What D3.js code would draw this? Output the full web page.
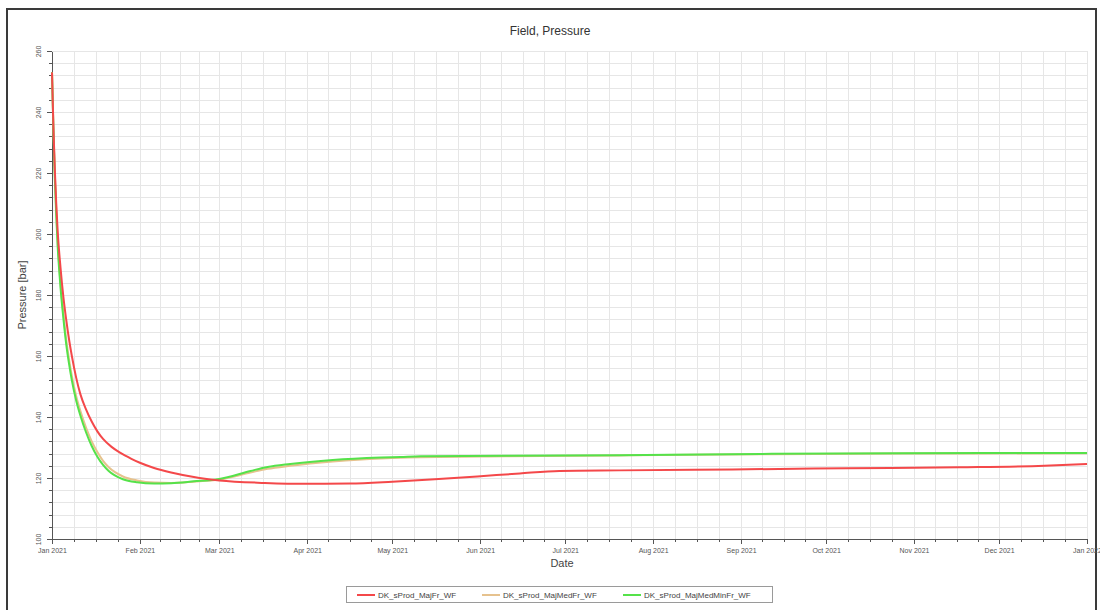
<!DOCTYPE html>
<html>
<head>
<meta charset="utf-8">
<title>Field, Pressure</title>
<script src="https://cdn.jsdelivr.net/npm/d3@7"></script>
<style>
	body { margin: 0; background: #fff; font-family: Arial, "Liberation Sans", sans-serif; }
	.grid line { stroke: #e6e6e6; stroke-width: 1; shape-rendering: crispEdges; }
	.axis path, .axis line { stroke: #555; shape-rendering: crispEdges; }
	.axis text { fill: #555; font-size: 7px; }
	.line { fill: none; stroke-width: 2; stroke-linejoin: round; }
</style>
</head>
<body>
<div id="chart"></div>
<script>
/* global d3 */

// days since 1 Jan 2021
var majFrDays   = [0, 0.5, 1, 1.5, 2, 3, 4, 5, 6, 7, 8.5, 10, 12, 14, 16, 18, 21, 24, 28, 31, 36, 42, 52, 59, 75, 90, 105, 120, 135, 150, 165, 179, 200, 240, 280, 320, 350, 365];
var majFrValues = [253, 235, 221, 210, 201, 189, 179.5, 172, 165.5, 160, 153, 147.5, 142.5, 138.5, 135.3, 132.8, 130.2, 128.3, 126.3, 125, 123.3, 121.8, 120, 119.2, 118.4, 118.1, 118.2, 118.8, 119.6, 120.5, 121.5, 122.3, 122.5, 122.8, 123.2, 123.5, 124, 124.6];

var medDays      = [0, 0.5, 1, 1.5, 2, 3, 4, 5, 6, 7, 8.5, 10, 12, 14, 16, 18, 20, 25, 30, 36, 42, 50, 59, 70, 76, 84, 99, 116, 123, 130, 160, 200, 250, 300, 365];
var majMedFrVals = [253, 235, 219.5, 207.5, 197.5, 184, 174, 165.5, 159, 153.5, 147, 142, 136.5, 132, 128.5, 125.6, 123.5, 120.5, 119.2, 118.5, 118.4, 118.8, 119.5, 121.8, 123, 124, 125.4, 126.4, 126.6, 126.8, 127.1, 127.4, 127.8, 128, 128.1];
var majMedMinVal = [253, 234, 218, 206, 196, 182.5, 172.5, 164, 157.5, 152, 145.5, 140.5, 135, 130.5, 127, 124.3, 122.3, 119.6, 118.6, 118.2, 118.3, 118.9, 119.7, 122.3, 123.6, 124.6, 125.9, 126.7, 126.9, 127.1, 127.3, 127.5, 127.9, 128.1, 128.2];

var seriesNames  = ['DK_sProd_MajFr_WF', 'DK_sProd_MajMedFr_WF', 'DK_sProd_MajMedMinFr_WF'];
var seriesColors = ['#f4484a', '#e6c28e', '#55e24a'];
var yTicks       = [100, 120, 140, 160, 180, 200, 220, 240, 260];

(function () {
	'use strict';

	function PressureChart (el) {
		this.series = this.buildSeries();
		this.scales = this.setScales();

		this.svg = this.buildSVG(el);
		this.addFrame();
		this.addTitle();
		this.addGrid();
		this.addAxes();
		this.addLines();
		this.addLegend();
	}

	PressureChart.prototype = {
		W: 1100,
		H: 610,
		plot: {left: 52, right: 1087, top: 51, bottom: 539},

		toDate: function (d) {
			return new Date(Date.UTC(2021, 0, 1) + d * 864e5);
		},

		buildSeries: function () {
			var that = this;
			var zip = function (days, vals) {
				return days.map(function (d, i) { return {date: that.toDate(d), value: vals[i]}; });
			};
			return [
				{name: seriesNames[0], color: seriesColors[0], values: zip(majFrDays, majFrValues)},
				{name: seriesNames[1], color: seriesColors[1], values: zip(medDays, majMedFrVals)},
				{name: seriesNames[2], color: seriesColors[2], values: zip(medDays, majMedMinVal)}
			];
		},

		setScales: function () {
			return {
				x: d3.scaleUtc().domain([new Date(Date.UTC(2021, 0, 1)), new Date(Date.UTC(2022, 0, 1))])
						.range([this.plot.left, this.plot.right]),
				y: d3.scaleLinear().domain([100, 260]).range([this.plot.bottom, this.plot.top])
			};
		},

		// quarter-month steps, the way the grid is drawn
		minorDates: function () {
			var months = d3.utcMonth.range(this.scales.x.domain()[0], this.scales.x.domain()[1]);
			var res = [];
			months.forEach(function (m) {
				var next = d3.utcMonth.offset(m, 1);
				for (var k = 0; k < 4; k++) {
					res.push(new Date(+m + (next - m) * k / 4));
				}
			});
			res.push(this.scales.x.domain()[1]);
			return res;
		},

		minorValues: function () {
			return d3.range(100, 260.1, 4);
		},

		buildSVG: function (el) {
			return d3.select(el).append('svg')
						.attr('width', this.W)
						.attr('height', this.H);
		},

		addFrame: function () {
			this.svg.append('rect')
					.attr('x', 7).attr('y', 9)
					.attr('width', 1089).attr('height', 610)
					.attr('fill', '#fff')
					.attr('stroke', '#3a3a3a')
					.attr('stroke-width', 2);
		},

		addTitle: function () {
			this.svg.append('text')
					.attr('x', 550).attr('y', 35)
					.attr('text-anchor', 'middle')
					.attr('fill', '#333')
					.style('font-size', '12px')
					.text('Field, Pressure');
		},

		addGrid: function () {
			var s = this.scales, p = this.plot;
			var g = this.svg.append('g').attr('class', 'grid');
			g.selectAll('.vx').data(this.minorDates()).enter().append('line')
				.attr('x1', function (d) { return Math.round(s.x(d)) + 0.5; })
				.attr('x2', function (d) { return Math.round(s.x(d)) + 0.5; })
				.attr('y1', p.top).attr('y2', p.bottom);
			g.selectAll('.hy').data(this.minorValues()).enter().append('line')
				.attr('y1', function (d) { return Math.round(s.y(d)) + 0.5; })
				.attr('y2', function (d) { return Math.round(s.y(d)) + 0.5; })
				.attr('x1', p.left).attr('x2', p.right);
		},

		addAxes: function () {
			var s = this.scales, p = this.plot;

			// minor ticks
			this.svg.append('g')
					.attr('class', 'axis')
					.attr('transform', 'translate(0,' + p.bottom + ')')
					.call(d3.axisBottom(s.x).tickValues(this.minorDates()).tickSize(3).tickFormat(''))
					.select('.domain').remove();
			this.svg.append('g')
					.attr('class', 'axis')
					.attr('transform', 'translate(' + p.left + ',0)')
					.call(d3.axisLeft(s.y).tickValues(this.minorValues()).tickSize(3).tickFormat(''))
					.select('.domain').remove();

			// major ticks
			var xAxis = this.svg.append('g')
					.attr('class', 'axis axis--x')
					.attr('transform', 'translate(0,' + p.bottom + ')')
					.call(d3.axisBottom(s.x).ticks(d3.utcMonth.every(1)).tickSize(5).tickSizeOuter(0)
						.tickFormat(d3.utcFormat('%b %Y')));
			xAxis.selectAll('text').attr('dy', '0.9em');

			var yAxis = this.svg.append('g')
					.attr('class', 'axis axis--y')
					.attr('transform', 'translate(' + p.left + ',0)')
					.call(d3.axisLeft(s.y).tickValues(yTicks).tickSize(5).tickSizeOuter(0));
			yAxis.selectAll('text')
					.attr('x', 0).attr('dy', 0)
					.attr('text-anchor', 'middle')
					.attr('transform', 'translate(-11,0) rotate(-90)');

			this.svg.append('text')
					.attr('x', 562).attr('y', 567)
					.attr('text-anchor', 'middle')
					.attr('fill', '#444')
					.style('font-size', '11px')
					.text('Date');

			this.svg.append('text')
					.attr('transform', 'translate(26,295) rotate(-90)')
					.attr('text-anchor', 'middle')
					.attr('fill', '#444')
					.style('font-size', '11px')
					.text('Pressure [bar]');
		},

		addLines: function () {
			var s = this.scales;
			var line = d3.line()
					.curve(d3.curveMonotoneX)
					.x(function (d) { return s.x(d.date); })
					.y(function (d) { return s.y(d.value); });
			var order = [this.series[1], this.series[2], this.series[0]];
			this.svg.append('g').selectAll('.line').data(order).enter().append('path')
					.attr('class', 'line')
					.attr('d', function (d) { return line(d.values); })
					.style('stroke', function (d) { return d.color; });
		},

		addLegend: function () {
			var g = this.svg.append('g').attr('class', 'legend');
			g.append('rect')
					.attr('x', 346.5).attr('y', 586.5)
					.attr('width', 426).attr('height', 16)
					.attr('fill', '#fff')
					.attr('stroke', '#9a9a9a');
			var xs = [357, 482, 623];
			var items = g.selectAll('.item').data(this.series).enter().append('g')
					.attr('transform', function (d, i) { return 'translate(' + xs[i] + ',595)'; });
			items.append('line')
					.attr('x1', 0).attr('x2', 18)
					.attr('stroke', function (d) { return d.color; })
					.attr('stroke-width', 2);
			items.append('text')
					.attr('x', 21).attr('dy', '0.35em')
					.attr('fill', '#444')
					.style('font-size', '8px')
					.text(function (d) { return d.name; });
		}
	};

	return new PressureChart('#chart');
})();
</script>
</body>
</html>
